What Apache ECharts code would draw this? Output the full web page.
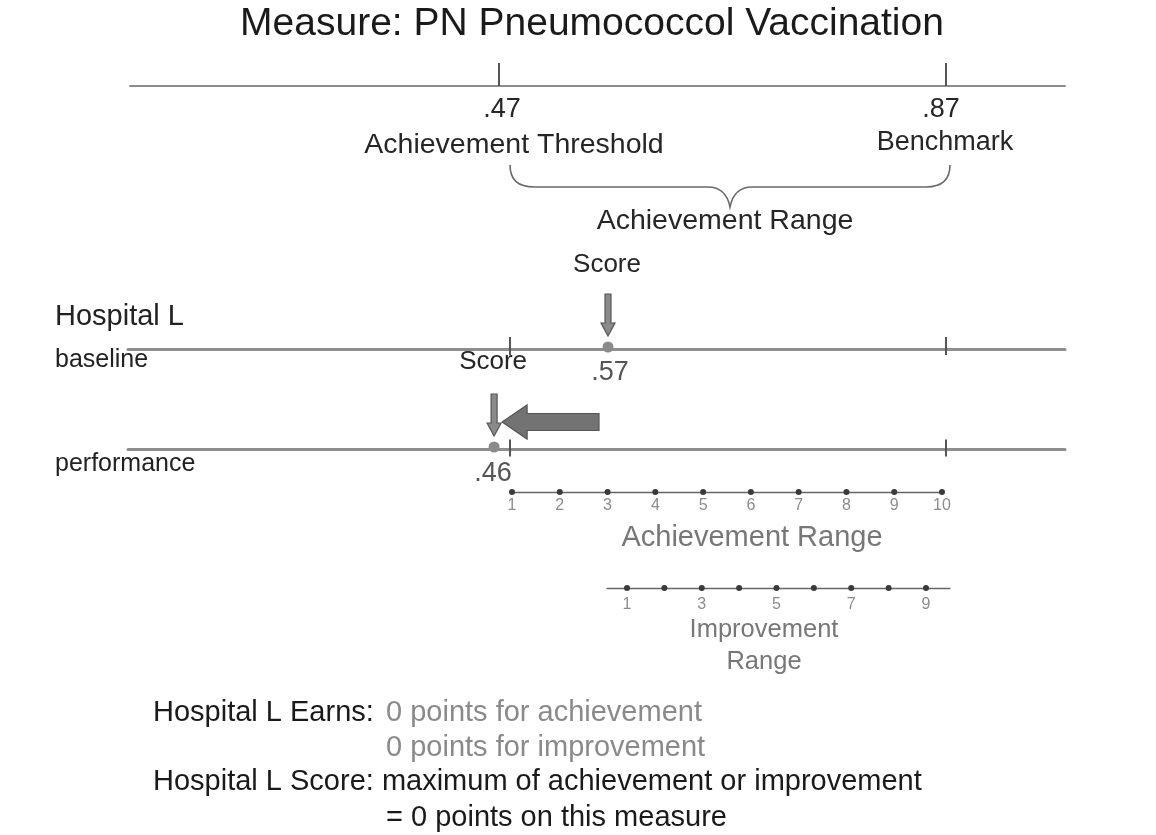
<!DOCTYPE html>
<html>
<head>
<meta charset="utf-8">
<script src="https://cdn.jsdelivr.net/npm/echarts@6/dist/echarts.min.js"></script>
<style>
  html, body { margin: 0; background: #fff; }
  #chart { width: 1156px; height: 835px; }
</style>
</head>
<body>
<div id="chart"></div>
<script>
// data
const measureTitle = 'Measure: PN Pneumococcol Vaccination';
const thresholdNames = ['Achievement Threshold', 'Benchmark'];
const thresholdValues = [0.47, 0.87];
const rangeName = 'Achievement Range';
const hospitalName = 'Hospital L';
const periodNames = ['baseline', 'performance'];
const scoreValues = [0.57, 0.46];
const achievementPoints = [1, 2, 3, 4, 5, 6, 7, 8, 9, 10];
const improvementPoints = [1, 2, 3, 4, 5, 6, 7, 8, 9];
const improvementLabels = [1, 3, 5, 7, 9];
const earnsLines = ['0 points for achievement', '0 points for improvement'];
const scoreLines = ['maximum of achievement or improvement', '= 0 points on this measure'];

const FONT = '"Liberation Sans", Arial, sans-serif';

// value range so that v0 sits at pixel x0 and v1 at x1 on a line from left to right
function span(v0, x0, v1, x1, left, right) {
    const k = (x1 - x0) / (v1 - v0);
    return { min: v0 - (x0 - left) / k, max: v1 + (right - x1) / k };
}
const fmt = v => v.toFixed(2).replace(/^0/, '');

const rows = [
    { top: 86, left: 130, right: 1065, r: span(0.47, 499, 0.87, 946, 130, 1065), line: '#8c8c8c', width: 2 },
    { top: 349, left: 128, right: 1065, r: span(0.47, 510, 0.87, 946, 128, 1065), line: '#8e8e8e', width: 3 },
    { top: 449, left: 128, right: 1065, r: span(0.47, 510, 0.87, 946, 128, 1065), line: '#8e8e8e', width: 3 },
    { top: 492, left: 512, right: 942, r: { min: 1, max: 10 }, line: '#666', width: 1.3 },
    { top: 588, left: 607, right: 950, r: span(1, 627, 9, 926, 607, 950), line: '#666', width: 1.3 }
];

const grid = rows.map(g => ({ left: g.left, width: g.right - g.left, top: g.top - 20, height: 20 }));
const xAxis = rows.map((g, i) => ({
    type: 'value', gridIndex: i, min: g.r.min, max: g.r.max,
    axisLine: { show: true, lineStyle: { color: g.line, width: g.width } },
    axisTick: { show: false }, axisLabel: { show: false }, splitLine: { show: false }
}));
const yAxis = rows.map((g, i) => ({ type: 'value', gridIndex: i, min: 0, max: 1, show: false }));

// invisible anchor with a text label
function textSeries(i, items) {
    return {
        type: 'scatter', xAxisIndex: i, yAxisIndex: i, clip: false, silent: true,
        symbolSize: 1, itemStyle: { color: 'rgba(0,0,0,0)', opacity: 1 },
        label: { show: true, position: 'inside', fontFamily: FONT, textBorderWidth: 0 },
        data: items.map(d => ({
            value: [d.v, 0],
            label: { formatter: d.text, offset: d.off, fontSize: d.size, color: d.color, textBorderWidth: 0 }
        }))
    };
}
function tickSeries(i, h, dy) {
    return {
        type: 'scatter', xAxisIndex: i, yAxisIndex: i, clip: false, silent: true,
        symbol: 'rect', symbolSize: [2, h], symbolOffset: [0, dy],
        itemStyle: { color: '#555', opacity: 1 },
        data: thresholdValues.map(v => [v, 0])
    };
}
// thin down arrow pointing at a score dot
function downArrow(i, v, dx) {
    return {
        type: 'custom', xAxisIndex: i, yAxisIndex: i, clip: false, silent: true,
        data: [[v, 0]],
        renderItem: (params, api) => {
            const p = api.coord([api.value(0), 0]);
            const x = p[0] + dx, y = p[1];
            return {
                type: 'polygon',
                shape: { points: [[x - 3, y - 55], [x + 3, y - 55], [x + 3, y - 26], [x + 7, y - 26], [x, y - 13], [x - 7, y - 26], [x - 3, y - 26]] },
                style: { fill: '#8a8a8a', stroke: '#555', lineWidth: 1.2 }
            };
        }
    };
}

const series = [
    // top scale
    tickSeries(0, 23, -11.5),
    textSeries(0, [
        { v: thresholdValues[0], text: fmt(thresholdValues[0]), off: [3, 24], size: 27, color: '#262626' },
        { v: thresholdValues[1], text: fmt(thresholdValues[1]), off: [-5, 24], size: 27, color: '#262626' },
        { v: thresholdValues[0], text: thresholdNames[0], off: [15, 59], size: 28.5, color: '#262626' },
        { v: thresholdValues[1], text: thresholdNames[1], off: [-1, 57], size: 27, color: '#262626' }
    ]),
    // brace over the achievement range
    {
        type: 'custom', xAxisIndex: 0, yAxisIndex: 0, clip: false, silent: true,
        data: [[thresholdValues[0], thresholdValues[1]]],
        renderItem: (params, api) => {
            const a = api.coord([api.value(0), 0]), b = api.coord([api.value(1), 0]);
            const x0 = a[0] + 11, x1 = b[0] + 4, y = a[1];
            const m = (x0 + x1) / 2, t = y + 79, h = y + 101, c = y + 121;
            const d = `M${x0},${t} Q${x0},${h} ${x0 + 24},${h} L${m - 22},${h} Q${m - 4},${h} ${m},${c}` +
                ` Q${m + 4},${h} ${m + 22},${h} L${x1 - 24},${h} Q${x1},${h} ${x1},${t}`;
            return {
                type: 'group',
                children: [
                    { type: 'path', shape: { pathData: d }, style: { fill: null, stroke: '#6a6a6a', lineWidth: 1.6 } },
                    { type: 'text', x: m - 5, y: y + 135, style: { text: rangeName, font: '28.5px ' + FONT, fill: '#262626', align: 'center', verticalAlign: 'middle' } }
                ]
            };
        }
    },
    // baseline
    tickSeries(1, 18, -3),
    {
        type: 'scatter', xAxisIndex: 1, yAxisIndex: 1, clip: false, silent: true,
        symbolSize: 11, symbolOffset: [-11, -2], itemStyle: { color: '#8a8a8a', opacity: 1 },
        data: [[scoreValues[0], 0]]
    },
    textSeries(1, [
        { v: scoreValues[0], text: fmt(scoreValues[0]), off: [-9, 24], size: 27, color: '#555' },
        { v: scoreValues[0], text: 'Score', off: [-12, -84], size: 26, color: '#262626' }
    ]),
    downArrow(1, scoreValues[0], -11),
    // performance
    tickSeries(2, 17, -1),
    {
        type: 'scatter', xAxisIndex: 2, yAxisIndex: 2, clip: false, silent: true,
        symbolSize: 11, symbolOffset: [-5, -2], itemStyle: { color: '#8a8a8a', opacity: 1 },
        data: [[scoreValues[1], 0]]
    },
    textSeries(2, [
        { v: scoreValues[1], text: fmt(scoreValues[1]), off: [-6, 25], size: 27, color: '#555' },
        { v: scoreValues[1], text: 'Score', off: [-6, -87], size: 26, color: '#262626' }
    ]),
    // big arrow: baseline score -> performance score
    {
        type: 'custom', xAxisIndex: 2, yAxisIndex: 2, clip: false, silent: true,
        data: [[scoreValues[0], scoreValues[1]]],
        renderItem: (params, api) => {
            const from = api.coord([api.value(0), 0]), to = api.coord([api.value(1), 0]);
            const x0 = from[0] - 20, x1 = to[0] + 3, y = from[1] - 27;
            return {
                type: 'polygon',
                shape: { points: [[x0, y - 8.5], [x1 + 25, y - 8.5], [x1 + 25, y - 17], [x1, y], [x1 + 25, y + 17], [x1 + 25, y + 8.5], [x0, y + 8.5]] },
                style: { fill: '#737373', stroke: '#555', lineWidth: 1.2 }
            };
        }
    },
    downArrow(2, scoreValues[1], -5),
    // achievement points
    {
        type: 'scatter', xAxisIndex: 3, yAxisIndex: 3, clip: false, silent: true,
        symbolSize: 6, itemStyle: { color: '#3a3a3a', opacity: 1 },
        label: { show: true, position: 'inside', offset: [0, 14], fontSize: 16, color: '#8c8c8c', fontFamily: FONT, formatter: p => p.value[0] },
        data: achievementPoints.map(v => [v, 0])
    },
    // improvement points
    {
        type: 'scatter', xAxisIndex: 4, yAxisIndex: 4, clip: false, silent: true,
        symbolSize: 6, itemStyle: { color: '#3a3a3a', opacity: 1 },
        label: {
            show: true, position: 'inside', offset: [0, 17], fontSize: 16, color: '#8c8c8c', fontFamily: FONT,
            formatter: p => improvementLabels.includes(p.value[0]) ? p.value[0] : ''
        },
        data: improvementPoints.map(v => [v, 0])
    }
];

function txt(x, y, text, size, color, align) {
    return { type: 'text', x: x, y: y, style: { text: text, font: size + 'px ' + FONT, fill: color, align: align || 'left', verticalAlign: 'middle' } };
}

const graphic = [
    txt(592, 24, measureTitle, 39, '#1a1a1a', 'center'),
    txt(55, 317, hospitalName, 29, '#222'),
    txt(55, 360, periodNames[0], 25, '#222'),
    txt(55, 464, periodNames[1], 25, '#222'),
    txt(752, 538, rangeName, 29, '#777', 'center'),
    { type: 'text', x: 764, y: 646, style: { text: 'Improvement\nRange', font: '25.5px ' + FONT, fill: '#777', align: 'center', verticalAlign: 'middle', lineHeight: 32 } },
    txt(153, 713, hospitalName + ' Earns:', 29, '#1a1a1a'),
    txt(386, 713, earnsLines[0], 29, '#8a8a8a'),
    txt(386, 748, earnsLines[1], 29, '#8a8a8a'),
    txt(153, 782, hospitalName + ' Score: ' + scoreLines[0], 29, '#1a1a1a'),
    txt(386, 818, scoreLines[1], 29, '#1a1a1a')
];

const chart = echarts.init(document.getElementById('chart'));
chart.setOption({
    backgroundColor: '#fff',
    animation: false,
    grid: grid,
    xAxis: xAxis,
    yAxis: yAxis,
    series: series,
    graphic: graphic
});
window.onresize = function () {
    chart.resize();
};
</script>
</body>
</html>
